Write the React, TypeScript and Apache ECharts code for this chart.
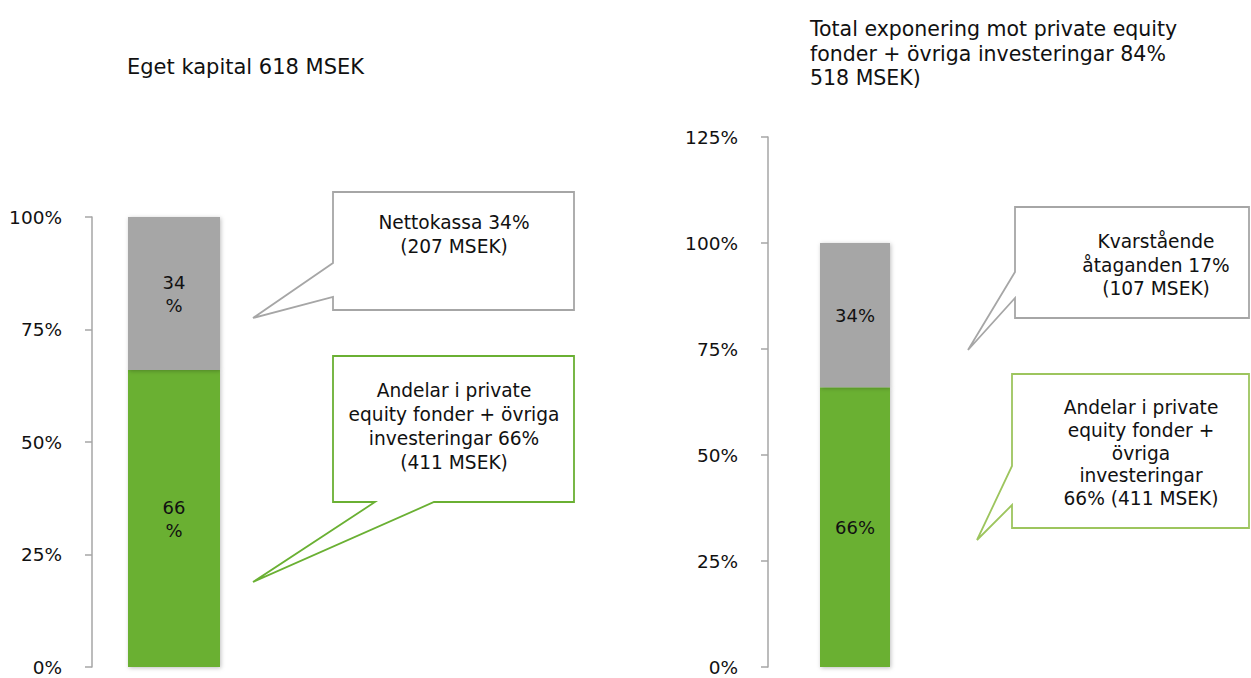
import React, { useEffect, useRef } from "react";
import * as echarts from "echarts";

const categories = ["Eget kapital"];
const leftGreen = [66];
const leftGrey = [34];
const rightGreen = [66];
const rightGrey = [34];
const leftTicks = [0, 25, 50, 75, 100];
const rightTicks = [0, 25, 50, 75, 100, 125];

const GREEN = "#6AB033";
const GREY = "#A6A6A6";
const LIGHTGREEN = "#9DC55E";
const FONT = "DejaVu Sans";
const TXT = "#111111";

export default function App() {
  const ref = useRef<HTMLDivElement>(null);
  useEffect(() => {
    if (!ref.current) return;
    const chart = echarts.init(ref.current, undefined, { renderer: "svg" });
    const yAxisCommon = (max: number) => ({
      type: "value",
      min: 0,
      max,
      interval: 25,
      axisLine: { show: true, lineStyle: { color: GREY, width: 1.5 } },
      axisTick: { show: true, length: 7, lineStyle: { color: GREY, width: 1.5 } },
      splitLine: { show: false },
      axisLabel: {
        formatter: "{value}%",
        fontFamily: FONT,
        fontSize: 18.5,
        color: TXT,
        margin: 30,
      },
    });
    const barLabel = (fmt: string) => ({
      show: true,
      position: "inside",
      formatter: fmt,
      fontFamily: FONT,
      fontSize: 18,
      color: TXT,
      lineHeight: 23,
    });
    const shadow = { shadowBlur: 4, shadowColor: "rgba(0,0,0,0.25)", shadowOffsetX: 1, shadowOffsetY: 1 };
    const textStyle = (x: number, y: number, text: string, align: string, lh: number, size = 18.6) => ({
      type: "text",
      x,
      y,
      style: {
        text,
        fontFamily: FONT,
        fontSize: size,
        fill: TXT,
        align,
        verticalAlign: "top",
        lineHeight: lh,
      },
      z: 10,
    });
    const poly = (points: number[][], stroke: string) => ({
      type: "polygon",
      shape: { points },
      style: { fill: "#ffffff", stroke, lineWidth: 1.8 },
      z: 5,
    });
    chart.setOption({
      animation: false,
      grid: [
        { left: 92, top: 217, width: 164, height: 450 },
        { left: 768, top: 137, width: 174, height: 530 },
      ],
      xAxis: [
        { type: "category", data: categories, gridIndex: 0, show: false },
        { type: "category", data: categories, gridIndex: 1, show: false },
      ],
      yAxis: [
        { ...yAxisCommon(leftTicks[leftTicks.length - 1]), gridIndex: 0 },
        { ...yAxisCommon(rightTicks[rightTicks.length - 1]), gridIndex: 1 },
      ],
      series: [
        {
          type: "bar", stack: "l", xAxisIndex: 0, yAxisIndex: 0, data: leftGreen, barWidth: 92,
          itemStyle: { color: GREEN, ...shadow }, label: barLabel("{c}\n%"),
        },
        {
          type: "bar", stack: "l", xAxisIndex: 0, yAxisIndex: 0, data: leftGrey, barWidth: 92,
          itemStyle: { color: GREY, ...shadow }, label: barLabel("{c}\n%"),
        },
        {
          type: "bar", stack: "r", xAxisIndex: 1, yAxisIndex: 1, data: rightGreen, barWidth: 70,
          itemStyle: { color: GREEN, ...shadow }, label: barLabel("{c}%"),
        },
        {
          type: "bar", stack: "r", xAxisIndex: 1, yAxisIndex: 1, data: rightGrey, barWidth: 70,
          itemStyle: { color: GREY, ...shadow }, label: barLabel("{c}%"),
        },
      ],
      graphic: [
        textStyle(127, 55, "Eget kapital 618 MSEK", "left", 24, 21),
        textStyle(810, 17, "Total exponering mot private equity\nfonder + övriga investeringar 84%\n518 MSEK)", "left", 24.5, 20.5),
        poly([[333, 192], [574, 192], [574, 310], [333, 310], [333, 297], [253, 318], [333, 263]], GREY),
        textStyle(454, 210, "Nettokassa 34%\n(207 MSEK)", "center", 24),
        poly([[333, 356], [574, 356], [574, 502], [434, 502], [253, 582], [375, 502], [333, 502]], GREEN),
        textStyle(454, 378, "Andelar i private\nequity fonder + övriga\ninvesteringar 66%\n(411 MSEK)", "center", 24),
        poly([[1015, 207], [1249, 207], [1249, 318], [1015, 318], [1015, 298], [968, 350], [1015, 272]], GREY),
        textStyle(1156, 230, "Kvarstående\nåtaganden 17%\n(107 MSEK)", "center", 23.5),
        poly([[1012, 374], [1249, 374], [1249, 528], [1012, 528], [1012, 505], [977, 540], [1012, 466]], LIGHTGREEN),
        textStyle(1141, 396, "Andelar i private\nequity fonder +\növriga\ninvesteringar\n66% (411 MSEK)", "center", 22.8),
      ],
    });
    return () => chart.dispose();
  }, []);
  return (
    <div
      ref={ref}
      style={{ position: "absolute", left: 0, top: 0, width: 1251, height: 678, background: "#fff" }}
    />
  );
}
